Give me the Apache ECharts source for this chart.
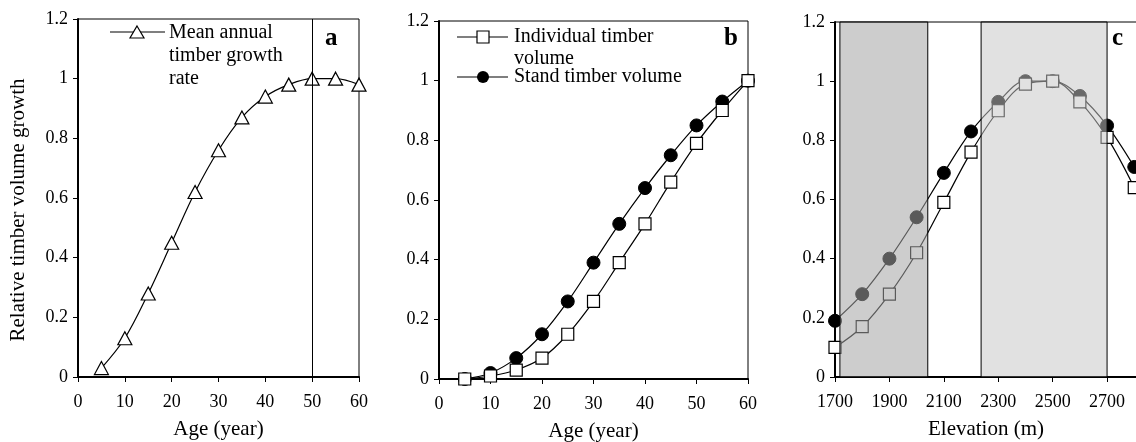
<!DOCTYPE html>
<html>
<head>
<meta charset="utf-8">
<script src="https://cdn.jsdelivr.net/npm/echarts@6/dist/echarts.min.js"></script>
<style>
html,body{margin:0;padding:0;background:#fff;}
#chart{width:1136px;height:442px;}
</style>
</head>
<body>
<div id="chart"></div>
<script>
// ---- data ----
const ageA = [5, 10, 15, 20, 25, 30, 35, 40, 45, 50, 55, 60];
const meanAnnualGrowth = [0.03, 0.13, 0.28, 0.45, 0.62, 0.76, 0.87, 0.94, 0.98, 1.00, 1.00, 0.98];

const ageB = [5, 10, 15, 20, 25, 30, 35, 40, 45, 50, 55, 60];
const individualVolume = [0.00, 0.01, 0.03, 0.07, 0.15, 0.26, 0.39, 0.52, 0.66, 0.79, 0.90, 1.00];
const standVolume = [0.00, 0.02, 0.07, 0.15, 0.26, 0.39, 0.52, 0.64, 0.75, 0.85, 0.93, 1.00];

const elevation = [1700, 1800, 1900, 2000, 2100, 2200, 2300, 2400, 2500, 2600, 2700, 2800];
const standByElev = [0.19, 0.28, 0.40, 0.54, 0.69, 0.83, 0.93, 1.00, 1.00, 0.95, 0.85, 0.71];
const individualByElev = [0.10, 0.17, 0.28, 0.42, 0.59, 0.76, 0.90, 0.99, 1.00, 0.93, 0.81, 0.64];

const shadeBands = [[1718, 2041], [2237, 2700]];
const ageMarker = 50;

const elevTickLabels = [1700, 1900, 2100, 2300, 2500, 2700];

// ---- chart ----
const FONT = 'Liberation Serif';
const pairs = (xs, ys) => xs.map((x, i) => [x, ys[i]]);
const shadeFills = ['rgba(164,164,164,0.55)', 'rgba(198,198,198,0.53)'];

const chart = echarts.init(document.getElementById('chart'), null, {renderer: 'canvas'});

function xAxis(gi, extra) {
  return Object.assign({
    type: 'value', gridIndex: gi,
    axisLine: {show: true, onZero: false, lineStyle: {color: '#000', width: 2}},
    axisTick: {show: true, inside: false, length: 5, lineStyle: {color: '#000', width: 1}},
    axisLabel: {color: '#000', fontFamily: FONT, fontSize: 18, margin: 16, formatter: v => String(v)},
    splitLine: {show: false},
    nameLocation: 'middle', nameGap: 42,
    nameTextStyle: {color: '#000', fontFamily: FONT, fontSize: 21}
  }, extra);
}
function yAxis(gi, extra) {
  return Object.assign({
    type: 'value', gridIndex: gi, min: 0, max: 1.2, interval: 0.2,
    axisLine: {show: true, onZero: false, lineStyle: {color: '#000', width: 2}},
    axisTick: {show: true, inside: false, length: 5, lineStyle: {color: '#000', width: 1}},
    axisLabel: {color: '#000', fontFamily: FONT, fontSize: 18, margin: 10,
      formatter: v => String(Math.round(v * 10) / 10)},
    splitLine: {show: false}
  }, extra);
}

const lineBase = {
  type: 'line', smooth: 0.35, showAllSymbol: true,
  lineStyle: {color: '#000', width: 1.2},
  animation: false
};

const gridBase = {show: true, borderColor: '#000', borderWidth: 1, containLabel: false, outerBoundsMode: 'none'};

const option = {
  backgroundColor: '#fff',
  animation: false,
  grid: [
    Object.assign({left: 78, top: 19, width: 281, height: 358}, gridBase),
    Object.assign({left: 439, top: 21, width: 309, height: 358}, gridBase),
    Object.assign({left: 835, top: 22, width: 302, height: 355}, gridBase)
  ],
  xAxis: [
    xAxis(0, {min: 0, max: 60, interval: 10, name: 'Age (year)'}),
    xAxis(1, {min: 0, max: 60, interval: 10, name: 'Age (year)'}),
    xAxis(2, {min: 1700, max: 2810, name: 'Elevation (m)',
      axisLabel: {color: '#000', fontFamily: FONT, fontSize: 18, margin: 16,
        customValues: elevTickLabels, formatter: v => String(v)},
      axisTick: {show: true, inside: false, length: 5, lineStyle: {color: '#000', width: 1},
        customValues: elevTickLabels}})
  ],
  yAxis: [
    yAxis(0, {}),
    yAxis(1, {}),
    yAxis(2, {})
  ],
  series: [
    Object.assign({}, lineBase, {
      name: 'Mean annual timber growth rate', xAxisIndex: 0, yAxisIndex: 0,
      data: pairs(ageA, meanAnnualGrowth),
      symbol: 'triangle', symbolSize: [14, 13],
      itemStyle: {color: '#fff', borderColor: '#000', borderWidth: 1.2},
      markLine: {silent: true, symbol: ['none', 'none'], label: {show: false},
        lineStyle: {color: '#000', width: 1, type: 'solid'},
        data: [{xAxis: ageMarker}]}
    }),
    Object.assign({}, lineBase, {
      name: 'Stand timber volume', xAxisIndex: 1, yAxisIndex: 1,
      data: pairs(ageB, standVolume),
      symbol: 'circle', symbolSize: 13,
      itemStyle: {color: '#000', borderColor: '#000', borderWidth: 1}
    }),
    Object.assign({}, lineBase, {
      name: 'Individual timber volume', xAxisIndex: 1, yAxisIndex: 1,
      data: pairs(ageB, individualVolume),
      symbol: 'rect', symbolSize: 12,
      itemStyle: {color: '#fff', borderColor: '#000', borderWidth: 1.2}
    }),
    Object.assign({}, lineBase, {
      name: 'Stand (elevation)', xAxisIndex: 2, yAxisIndex: 2,
      data: pairs(elevation, standByElev),
      symbol: 'circle', symbolSize: 13, clip: false,
      itemStyle: {color: '#000', borderColor: '#000', borderWidth: 1}
    }),
    Object.assign({}, lineBase, {
      name: 'Individual (elevation)', xAxisIndex: 2, yAxisIndex: 2,
      data: pairs(elevation, individualByElev),
      symbol: 'rect', symbolSize: 12, clip: false,
      itemStyle: {color: '#fff', borderColor: '#000', borderWidth: 1.2}
    }),
    {
      type: 'custom', xAxisIndex: 2, yAxisIndex: 2, z: 10, silent: true,
      data: shadeBands.map((b, i) => [b[0], b[1], i]),
      encode: {x: [0, 1]},
      renderItem: function (params, api) {
        const p0 = api.coord([api.value(0), 1.2]);
        const p1 = api.coord([api.value(1), 0]);
        return {
          type: 'rect',
          shape: {x: p0[0], y: p0[1], width: p1[0] - p0[0], height: p1[1] - p0[1]},
          style: {fill: shadeFills[api.value(2)], stroke: '#000', lineWidth: 1}
        };
      }
    }
  ],
  graphic: [
    // y-axis title
    {type: 'text', x: 18, y: 210, rotation: Math.PI / 2,
      style: {text: 'Relative timber volume growth', fontFamily: FONT, fontSize: 21, fill: '#000',
        align: 'center', verticalAlign: 'middle'}},
    // panel a legend
    {type: 'line', shape: {x1: 110, y1: 32, x2: 165, y2: 32}, style: {stroke: '#000', lineWidth: 1.2}},
    {type: 'polygon', shape: {points: [[137, 26], [144, 38], [130, 38]]}, style: {fill: '#fff', stroke: '#000', lineWidth: 1.2}},
    {type: 'text', left: 169, top: 21, style: {text: 'Mean annual\ntimber growth\nrate', fontFamily: FONT, fontSize: 20, lineHeight: 23, fill: '#000'}},
    {type: 'text', left: 325, top: 26, style: {text: 'a', fontFamily: FONT, fontSize: 25, fontWeight: 'bold', fill: '#000'}},
    // panel b legend
    {type: 'line', shape: {x1: 457, y1: 37, x2: 508, y2: 37}, style: {stroke: '#000', lineWidth: 1.2}},
    {type: 'rect', shape: {x: 477, y: 31, width: 12, height: 12}, style: {fill: '#fff', stroke: '#000', lineWidth: 1.2}},
    {type: 'text', left: 514, top: 26, style: {text: 'Individual timber\nvolume', fontFamily: FONT, fontSize: 20, lineHeight: 22, fill: '#000'}},
    {type: 'line', shape: {x1: 457, y1: 77, x2: 508, y2: 77}, style: {stroke: '#000', lineWidth: 1.2}},
    {type: 'circle', shape: {cx: 483, cy: 77, r: 6}, style: {fill: '#000'}},
    {type: 'text', left: 514, top: 67, style: {text: 'Stand timber volume', fontFamily: FONT, fontSize: 20, fill: '#000'}},
    {type: 'text', left: 724, top: 26, style: {text: 'b', fontFamily: FONT, fontSize: 25, fontWeight: 'bold', fill: '#000'}},
    // panel c label
    {type: 'text', left: 1112, top: 26, style: {text: 'c', fontFamily: FONT, fontSize: 25, fontWeight: 'bold', fill: '#000'}}
  ]
};
chart.setOption(option);
</script>
</body>
</html>
